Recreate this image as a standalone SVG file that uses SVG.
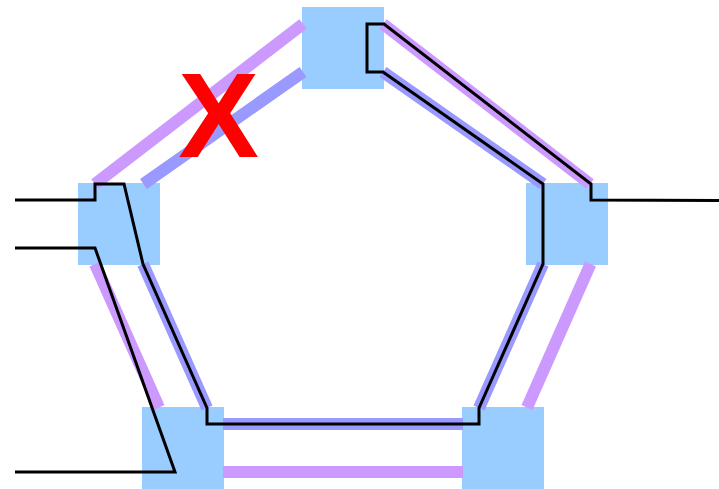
<svg xmlns="http://www.w3.org/2000/svg" width="719" height="489" viewBox="0 0 719 489">
<style>
.node{fill:#99ccff}
.p{stroke:#cc99ff;stroke-width:12;fill:none}
.b{stroke:#9999ff;stroke-width:12;fill:none}
.k{stroke:#000;stroke-width:3;fill:none}
.x{font-family:"Liberation Sans",Arial,sans-serif;font-weight:bold;font-size:121px;fill:#ff0000;text-anchor:middle}
</style>
<rect width="719" height="489" fill="#fff"/>
<g id="node-top"><rect class="node" x="302" y="7" width="82" height="82"/></g>
<g id="node-left"><rect class="node" x="78" y="183" width="82" height="82"/></g>
<g id="node-right"><rect class="node" x="526" y="183" width="82" height="82"/></g>
<g id="node-bottom-left"><rect class="node" x="142" y="407" width="82" height="82"/></g>
<g id="node-bottom-right"><rect class="node" x="462" y="407" width="82" height="82"/></g>
<g id="connectors">
<path class="p" d="M303 24L95 184"/>
<path class="b" d="M303 72L143.500 184"/>
<path class="p" d="M383 24L590 184"/>
<path class="b" d="M383 72L543 184"/>
<path class="p" d="M95 264L159 407.500"/>
<path class="b" d="M143 264L207 408"/>
<path class="p" d="M590.500 264L527 407.500"/>
<path class="b" d="M543 264L479 408"/>
<path class="p" d="M223 472H463"/>
<path class="b" d="M223 424H463"/>
<path class="k" d="M15 200H95V184H124L143 264L207 408V424H479V408L543 264V184L383 72H367V24H384L591 184V200L719 200.500"/>
<path class="k" d="M15 248H95L175 472H15"/>
</g>
<text class="x" x="218.500" y="157">X</text>
</svg>
